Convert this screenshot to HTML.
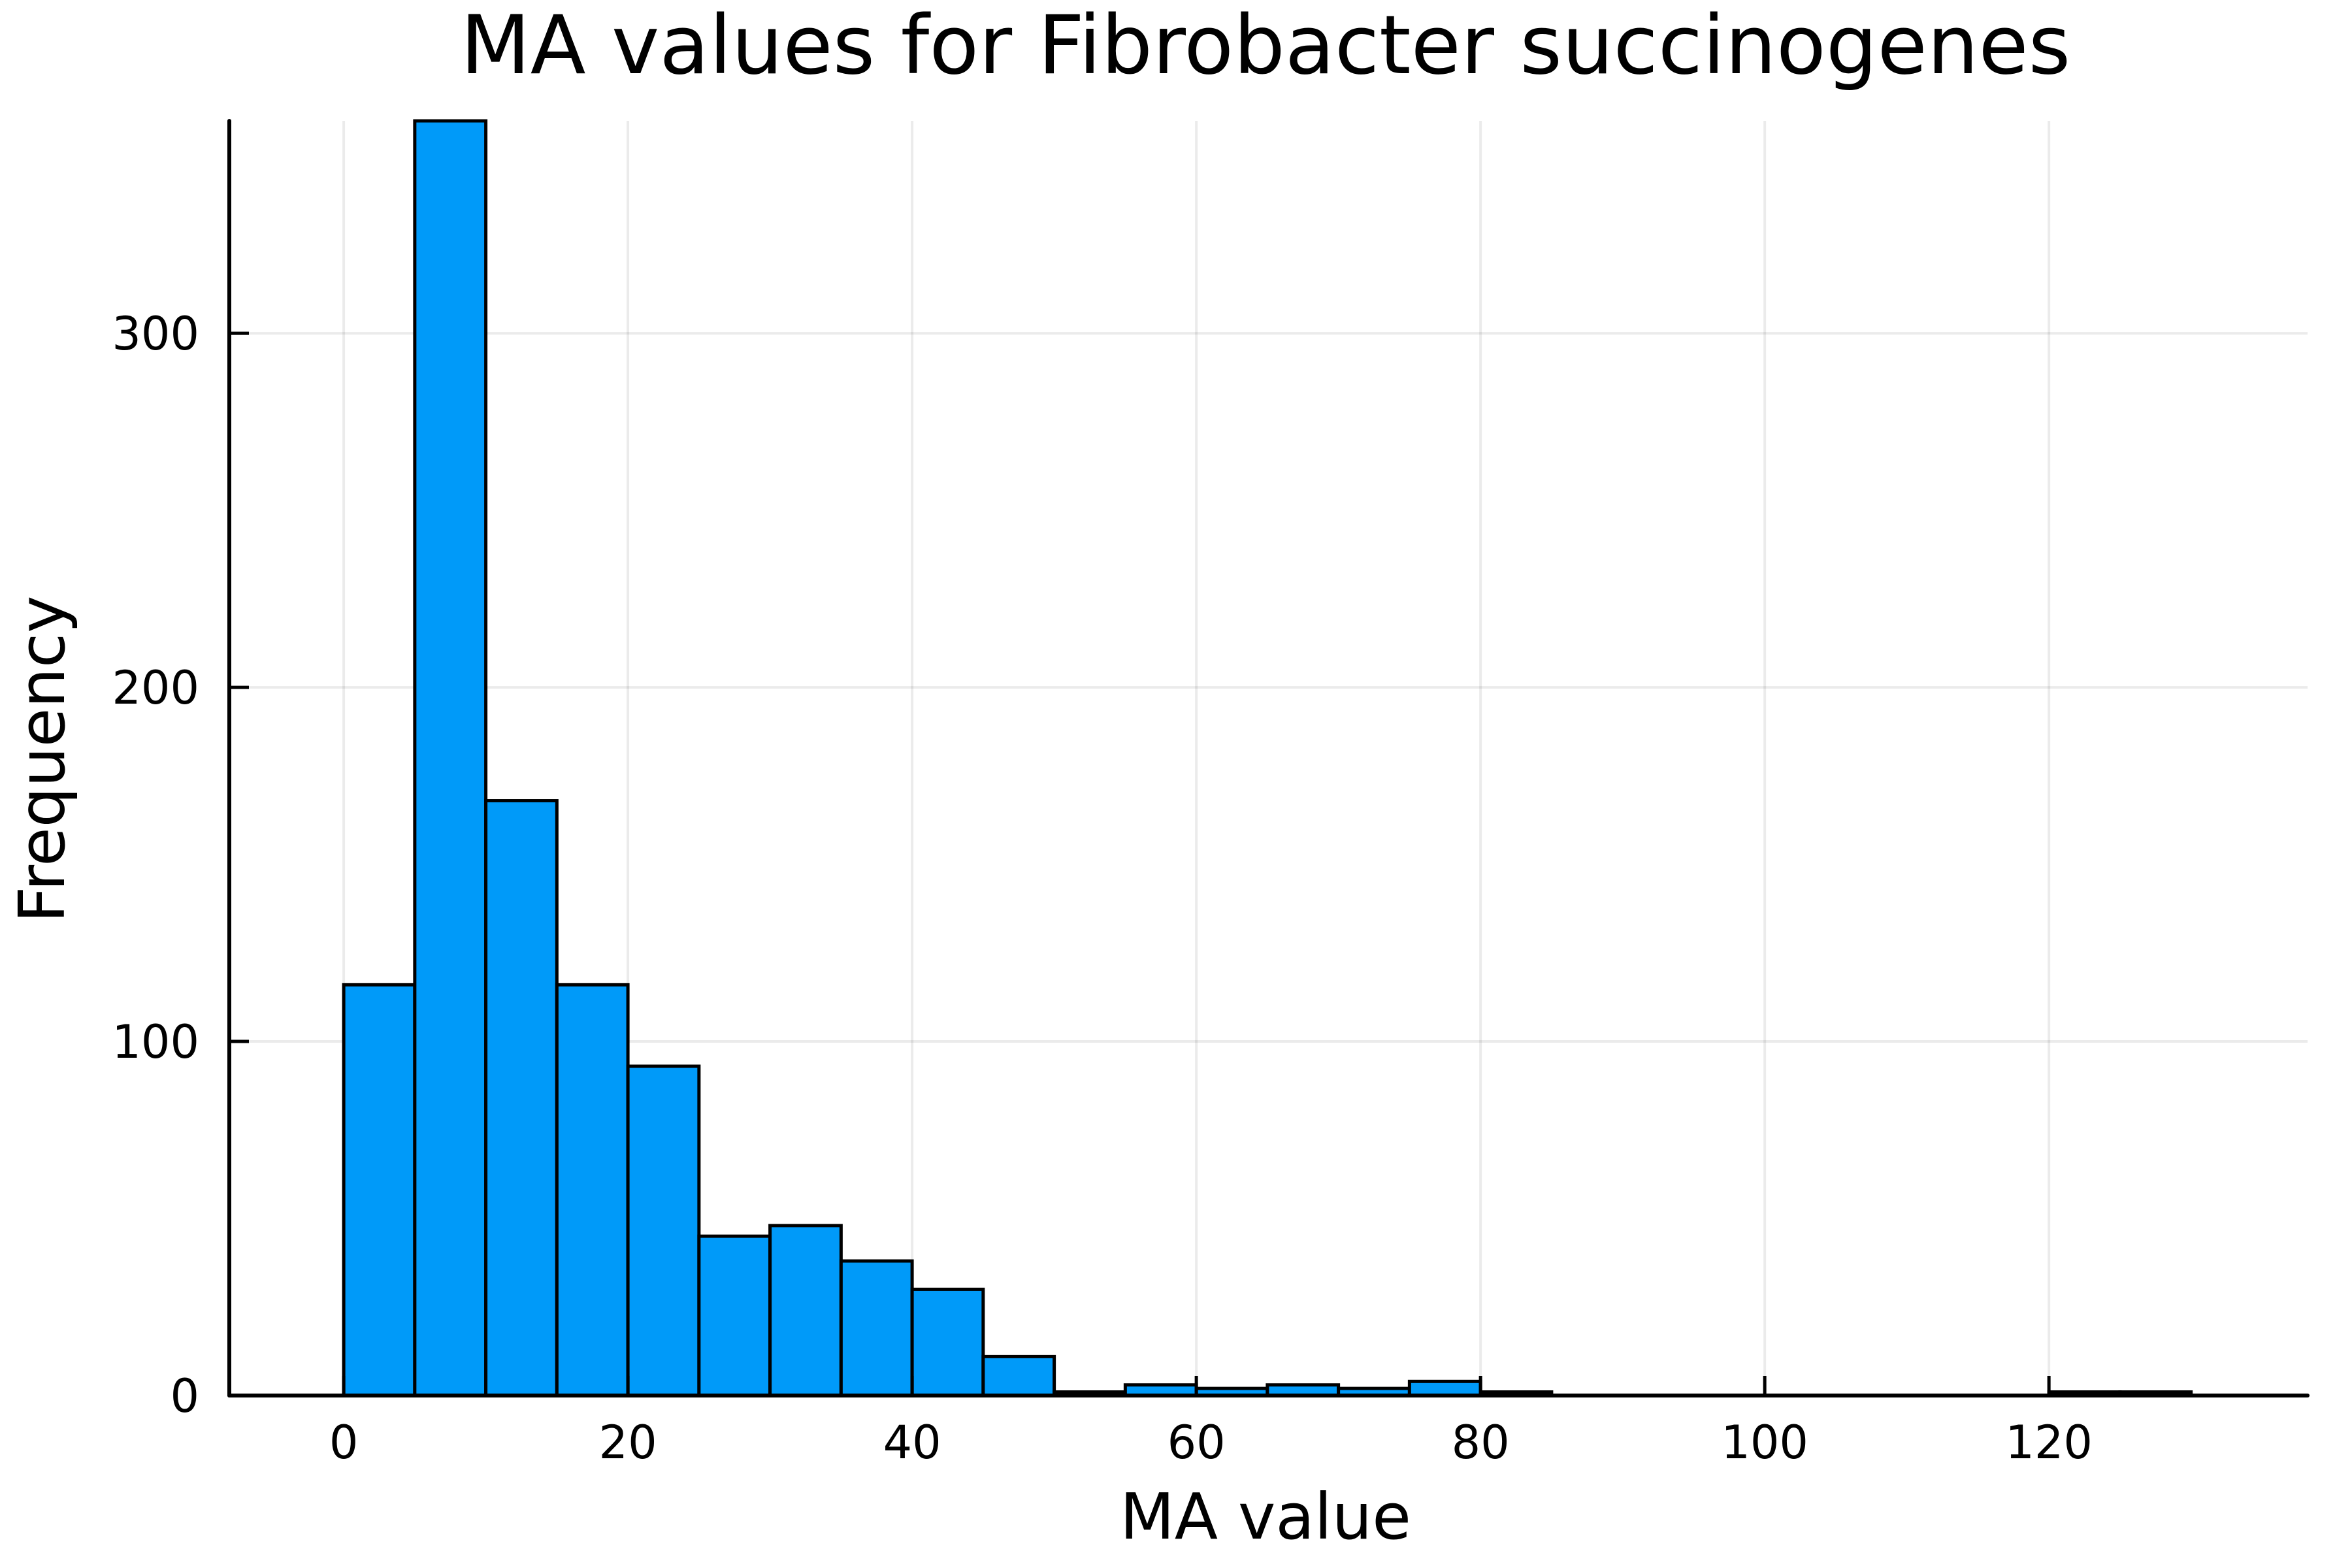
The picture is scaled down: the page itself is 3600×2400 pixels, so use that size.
<!DOCTYPE html>
<html><head><meta charset="utf-8">
<style>html,body{margin:0;padding:0;background:#fff;}svg{display:block;}</style>
</head><body>
<svg id="chart" width="3600" height="2400" xmlns="http://www.w3.org/2000/svg" font-family="'DejaVu Sans','Liberation Sans',sans-serif">
<rect width="3600" height="2400" fill="#fff"/>
<text x="1937" y="112" font-size="124" text-anchor="middle">MA values for Fibrobacter succinogenes</text>
<text x="1937" y="2355" font-size="97" text-anchor="middle">MA value</text>
<text x="0" y="0" font-size="97" text-anchor="middle" transform="translate(98,1162) rotate(-90)">Frequency</text>
<g id="grid"></g><g id="bars"></g><g id="axes"></g>
</svg>
<script>
const binEdges = [0,5,10,15,20,25,30,35,40,45,50,55,60,65,70,75,80,85,90,95,100,105,110,115,120,125,130];
const counts = [116,360,168,116,93,45,48,38,30,11,1,3,2,3,2,4,1,0,0,0,0,0,0,0,1,1];
const xTicks = [0,20,40,60,80,100,120];
const yTicks = [0,100,200,300];

const L=351,R=3532,T=185,B=2136;
const xMin=-8.05,xMax=138.2,yMin=0,yMax=360;
const sx=v=>L+(v-xMin)/(xMax-xMin)*(R-L);
const sy=v=>B-(v-yMin)/(yMax-yMin)*(B-T);
const NS="http://www.w3.org/2000/svg";
function mk(tag,attrs,parent){const e=document.createElementNS(NS,tag);for(const k in attrs)e.setAttribute(k,attrs[k]);parent.appendChild(e);return e;}
const grid=document.getElementById('grid'),bars=document.getElementById('bars'),axes=document.getElementById('axes');
xTicks.forEach(t=>{
  const g=mk('line',{x1:sx(t),x2:sx(t),y1:T,y2:B,stroke:'#000','stroke-opacity':0.08,'stroke-width':4},grid);
  
  
});
yTicks.forEach(t=>{
  const g=mk('line',{x1:L,x2:R,y1:sy(t),y2:sy(t),stroke:'#000','stroke-opacity':0.08,'stroke-width':4},grid);
  
  
});
counts.forEach((c,i)=>{
  const x0=sx(binEdges[i]),x1=sx(binEdges[i+1]);
  const r=mk('rect',{x:x0,y:sy(c),width:x1-x0,height:sy(0)-sy(c),fill:'#009af9',stroke:'#000','stroke-width':5},bars);
  
  
});
const ax=mk('line',{x1:L,x2:L,y1:T,y2:B,stroke:'#000','stroke-width':6,'stroke-linecap':'round'},axes);


const bx=mk('line',{x1:L,x2:R,y1:B,y2:B,stroke:'#000','stroke-width':6,'stroke-linecap':'round'},axes);


xTicks.forEach(t=>{
  const tk=mk('line',{x1:sx(t),x2:sx(t),y1:B,y2:B-30,stroke:'#000','stroke-width':5},axes);
  
  
  const tx=mk('text',{x:sx(t),y:B+96,'font-size':70,'text-anchor':'middle'},axes);
  tx.textContent=t;
  
  
});
yTicks.forEach(t=>{
  const tk=mk('line',{x1:L,x2:L+30,y1:sy(t),y2:sy(t),stroke:'#000','stroke-width':5},axes);
  
  
  const tx=mk('text',{x:L-46,y:sy(t)+25,'font-size':70,'text-anchor':'end'},axes);
  tx.textContent=t;
  
  
});
</script>
</body></html>
